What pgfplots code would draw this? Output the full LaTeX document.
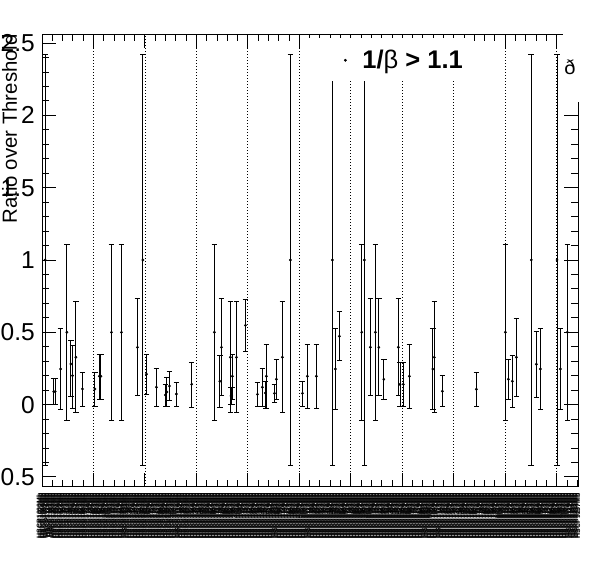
\documentclass[border=0pt]{standalone}
\usepackage{pgfplots}
\usepackage{pgfplotstable}
\pgfplotsset{compat=1.18}
\usepackage{fontspec}
\setmainfont{Liberation Sans}
\pgfplotstableread{
x y ep em
0.31 1.0 1.418 1.418
1.14 0.09 0.09 0.09
1.28 0.09 0.09 0.09
1.80 0.246 0.28 0.28
2.42 0.5 0.61 0.61
2.81 0.281 0.161 0.226
2.96 0.2 0.21 0.23
3.29 0.327 0.385 0.385
3.93 0.108 0.115 0.118
5.14 0.108 0.115 0.118
5.58 0.196 0.152 0.16
5.72 0.196 0.152 0.16
6.75 0.5 0.61 0.61
7.72 0.5 0.61 0.61
9.27 0.396 0.335 0.335
9.80 1.0 1.418 1.418
10.15 0.21 0.138 0.139
11.12 0.12 0.13 0.13
11.99 0.066 0.074 0.076
12.13 0.087 0.098 0.097
12.38 0.128 0.1 0.098
13.06 0.073 0.081 0.083
14.54 0.14 0.153 0.159
16.75 0.5 0.61 0.61
17.28 0.161 0.18 0.18
17.43 0.396 0.335 0.335
18.30 0.327 0.385 0.385
18.36 0.06 0.06 0.06
18.43 0.06 0.06 0.06
18.50 0.196 0.152 0.16
18.89 0.327 0.385 0.385
19.76 0.548 0.18 0.18
20.93 0.071 0.083 0.081
21.41 0.12 0.13 0.13
21.70 0.08 0.08 0.11
21.80 0.196 0.221 0.221
22.58 0.078 0.06 0.062
22.77 0.175 0.138 0.138
23.35 0.327 0.385 0.385
24.13 1.0 1.418 1.418
25.30 0.078 0.08 0.088
25.78 0.196 0.22 0.22
26.66 0.196 0.22 0.22
28.21 1.0 1.418 1.418
28.50 0.246 0.28 0.28
28.89 0.472 0.17 0.17
31.06 0.5 0.61 0.61
31.32 1.0 1.418 1.418
31.90 0.396 0.335 0.335
32.39 0.5 0.61 0.61
32.72 0.396 0.335 0.335
33.20 0.175 0.138 0.138
34.62 0.396 0.335 0.335
34.78 0.14 0.15 0.155
35.10 0.14 0.15 0.155
35.69 0.196 0.22 0.22
37.96 0.246 0.28 0.28
38.11 0.327 0.385 0.385
38.89 0.092 0.108 0.102
42.19 0.106 0.117 0.116
45.01 0.5 0.61 0.61
45.30 0.175 0.138 0.138
45.69 0.161 0.18 0.18
46.08 0.327 0.27 0.27
47.53 1.0 1.418 1.418
48.02 0.279 0.228 0.228
48.41 0.246 0.28 0.28
50.03 1.0 1.418 1.418
50.35 0.246 0.28 0.28
51.03 0.5 0.61 0.61
}\ratiodata
\begin{document}
\begin{tikzpicture}[x=1pt,y=1pt]
\path[use as bounding box] (0,0) rectangle (596,572);
\clip (0,0) rectangle (596,572);
\begin{axis}[
  at={(42pt,85.3pt)}, anchor=south west,
  scale only axis, width=536pt, height=452.4pt,
  xmin=0, xmax=52.07, ymin=-0.568, ymax=2.561,
  xtick={0,5,...,50}, minor xtick={0,1,...,52}, xticklabels={},
  ytick={-0.5,0,0.5,1,1.5,2,2.5}, minor y tick num=4,
  yticklabels={-0.5,0,0.5,1,1.5,2,2.5},
  yticklabel style={font=\fontsize{24.5}{24.5}\selectfont, inner sep=0pt, xshift=-7pt},
  tick pos=both, tick align=inside,
  major tick length=14pt, minor tick length=7pt,
  tick style={black, line width=0.9pt},
  axis line style={black, line width=0.9pt},
  xmajorgrids, major x grid style={black, line width=0.8pt, dash pattern=on 1pt off 2pt},
  legend image code/.code={\path[draw=none] plot[mark=*, mark size=1.2pt, mark options={fill=black, draw=black}] coordinates {(1pt,0pt)}; \path[draw=none, fill=none] (0pt,0pt) -- (18pt,0pt);},
  legend style={at={(0.5634,0.9425)}, anchor=west, draw=none, fill=none, inner sep=0pt,
    nodes={inner sep=0pt}, font=\fontsize{25.5}{25.5}\selectfont\bfseries},
]
\addplot[black, only marks, mark=*, mark size=1.2pt, mark options={black},
  error bars/.cd, y dir=both, y explicit,
  error mark=|,
  error bar style={black, line width=1pt},
  error mark options={black, line width=1pt, mark size=2.8pt}]
  table[x=x, y=y, y error plus=ep, y error minus=em]{\ratiodata};
\addlegendentry{1/{\mdseries β} > 1.1}
\fill[white] (axis cs:25.36,2.238) rectangle (axis cs:41.97,2.535);
\end{axis}
\fill[white] (563,469.5) rectangle (597,573);
\node[font=\fontsize{20}{20}\selectfont, inner sep=0pt] at (570,504.5) {ð};
\node[rotate=90, anchor=north east, inner sep=0pt, font=\fontsize{20.4}{20.4}\selectfont] at (2,538) {Ratio over Threshold};
\foreach \i in {0,...,359} {
  \pgfmathsetmacro\xx{39+1.5*\i}
  \pgfmathtruncatemacro\nn{1000+23*\i}
  \node[rotate=90, anchor=east, inner sep=0pt, font=\fontsize{7}{7}\selectfont\bfseries] at (\xx,79) {HSCP\nn Mb};
}
\end{tikzpicture}
\end{document}
